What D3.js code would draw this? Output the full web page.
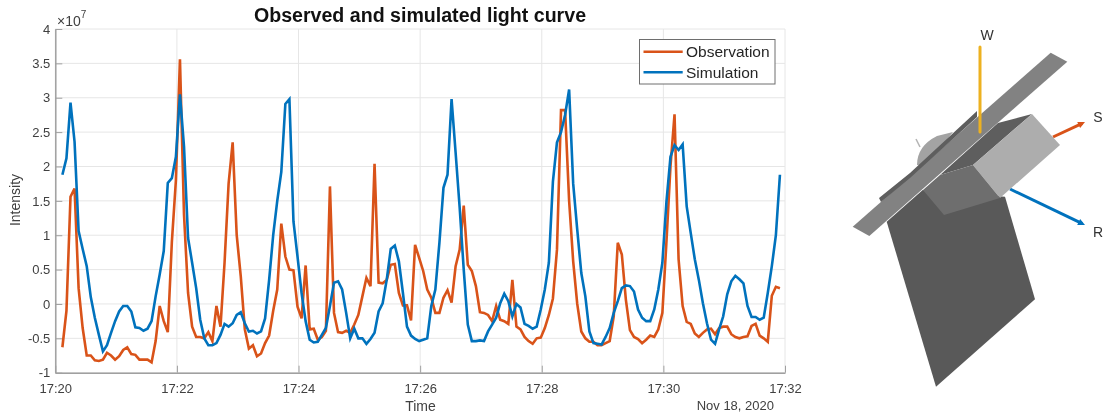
<!DOCTYPE html>
<html>
<head>
<meta charset="utf-8">
<script src="https://cdn.jsdelivr.net/npm/d3@7"></script>
<style>
  html, body { margin: 0; padding: 0; background: #fff; }
  svg { display: block; filter: blur(0.35px); }
  text { font-family: "Liberation Sans", Arial, sans-serif; }
</style>
</head>
<body>
<div id="chart"></div>
<script>
// light curve samples, in units of 1e7, one every 4 seconds
const firstSampleSecond = 7
const sampleStep = 4

const observation = [
  -0.63, -0.1, 1.56, 1.68, 0.23, -0.35, -0.75, -0.75, -0.82, -0.83,
  -0.81, -0.71, -0.75, -0.81, -0.76, -0.67, -0.63, -0.73, -0.74, -0.81,
  -0.81, -0.81, -0.85, -0.54, -0.03, -0.25, -0.41, 0.9, 1.8, 3.56,
  1.3, 0.16, -0.33, -0.48, -0.48, -0.5, -0.41, -0.54, -0.03, -0.33,
  0.6, 1.75, 2.35, 1.0, 0.4, -0.37, -0.65, -0.6, -0.76, -0.72,
  -0.57, -0.46, -0.1, 0.21, 1.17, 0.69, 0.5, 0.49, -0.04, -0.21,
  0.56, -0.37, -0.36, -0.52, -0.48, -0.39, 1.71, -0.13, -0.41, -0.42,
  -0.39, -0.42, -0.3, -0.16, 0.11, 0.38, 0.26, 2.04, 0.31, 0.3,
  0.35, 0.57, 0.58, 0.16, -0.02, -0.02, -0.24, 0.86, 0.67, 0.48,
  0.21, 0.09, -0.13, -0.13, 0.09, 0.2, 0.02, 0.55, 0.79, 1.43,
  0.57, 0.48, 0.26, -0.12, -0.13, -0.16, -0.25, -0.03, -0.23, -0.25,
  -0.29, 0.35, -0.33, -0.37, -0.48, -0.54, -0.58, -0.5, -0.49, -0.35,
  -0.16, 0.08, 0.79, 2.82, 2.82, 1.5, 0.62, 0.0, -0.4, -0.5,
  -0.55, -0.55, -0.6, -0.6, -0.57, -0.54, -0.18, 0.89, 0.72, 0.06,
  -0.38, -0.48, -0.51, -0.57, -0.52, -0.46, -0.48, -0.37, -0.13, 0.9,
  2.0, 2.76, 0.65, -0.03, -0.26, -0.29, -0.43, -0.48, -0.42, -0.37,
  -0.36, -0.44, -0.35, -0.33, -0.33, -0.44, -0.48, -0.5, -0.48, -0.47,
  -0.32, -0.29, -0.46, -0.5, -0.55, 0.12, 0.25, 0.23
]

const simulation = [
  1.88, 2.12, 2.93, 2.36, 1.06, 0.8, 0.55, 0.1, -0.2, -0.45,
  -0.69, -0.6, -0.42, -0.25, -0.11, -0.03, -0.03, -0.11, -0.34, -0.35,
  -0.39, -0.36, -0.25, 0.11, 0.43, 0.77, 1.76, 1.83, 2.14, 3.05,
  2.29, 0.96, 0.6, 0.23, -0.23, -0.5, -0.6, -0.6, -0.57, -0.45,
  -0.29, -0.33, -0.28, -0.16, -0.12, -0.28, -0.4, -0.39, -0.43, -0.4,
  -0.21, 0.35, 1.0, 1.5, 1.92, 2.91, 2.98, 1.2, 0.69, 0.16,
  -0.25, -0.52, -0.56, -0.55, -0.45, -0.35, -0.03, 0.31, 0.33, 0.21,
  -0.13, -0.5, -0.36, -0.5, -0.5, -0.58, -0.51, -0.42, -0.11, 0.01,
  0.35, 0.8, 0.85, 0.62, 0.16, -0.33, -0.46, -0.51, -0.54, -0.52,
  -0.5, -0.03, 0.21, 0.89, 1.69, 1.88, 2.98, 2.2, 1.4, 0.5,
  -0.3, -0.54, -0.54, -0.53, -0.54, -0.4, -0.3, -0.2, 0.01, 0.15,
  0.04, -0.18, 0.0, -0.05, -0.29, -0.32, -0.36, -0.33, -0.08, 0.21,
  0.6, 1.78, 2.35, 2.5, 2.75, 3.12, 1.75, 1.08, 0.45, 0.11,
  -0.4, -0.57, -0.58, -0.59, -0.48, -0.35, -0.13, 0.04, 0.23, 0.27,
  0.26, 0.18, -0.08, -0.2, -0.25, -0.25, -0.08, 0.21, 0.6, 1.48,
  2.14, 2.31, 2.24, 2.32, 1.42, 1.03, 0.65, 0.35, 0.01, -0.28,
  -0.52, -0.58, -0.37, -0.18, 0.14, 0.33, 0.41, 0.36, 0.3, -0.03,
  -0.19, -0.19, -0.23, -0.2, 0.16, 0.55, 1.0, 1.88
]

const yTicks = [-1, -0.5, 0, 0.5, 1, 1.5, 2, 2.5, 3, 3.5, 4]
const xTickMinutes = [20, 22, 24, 26, 28, 30, 32]
const seriesNames = ['Observation', 'Simulation']

const colors = { obs: '#D95319', sim: '#0072BD', w: '#EDB120' }
const textColor = '#404040'

const clock = (min, sec) => new Date(2020, 10, 18, 17, min, sec || 0)

const svg = d3.select('#chart').append('svg')
  .attr('width', 1104)
  .attr('height', 414)

const x = d3.scaleTime().domain([clock(20), clock(32)]).range([55.3, 785])
const y = d3.scaleLinear().domain([-1, 4]).range([372.7, 29])

// grid
svg.append('g').selectAll('line').data(yTicks).enter().append('line')
  .attr('x1', x.range()[0]).attr('x2', x.range()[1])
  .attr('y1', d => y(d)).attr('y2', d => y(d))
  .attr('stroke', '#e6e6e6').attr('stroke-width', 1)
svg.append('g').selectAll('line').data(xTickMinutes).enter().append('line')
  .attr('x1', d => x(clock(d))).attr('x2', d => x(clock(d)))
  .attr('y1', y.range()[0]).attr('y2', y.range()[1])
  .attr('stroke', '#e6e6e6').attr('stroke-width', 1)

// axes
const xAxis = svg.append('g')
  .attr('transform', `translate(0,${y.range()[0]})`)
  .call(d3.axisBottom(x)
    .tickValues(xTickMinutes.map(m => clock(m)))
    .tickFormat(d3.timeFormat('%H:%M'))
    .tickSizeInner(-7).tickSizeOuter(0).tickPadding(11))
const yAxis = svg.append('g')
  .attr('transform', `translate(${x.range()[0]},0)`)
  .call(d3.axisLeft(y)
    .tickValues(yTicks)
    .tickFormat(d => String(d))
    .tickSizeInner(-7).tickSizeOuter(0).tickPadding(5))
for (const axis of [xAxis, yAxis]) {
  axis.selectAll('path').attr('stroke', '#a0a0a0').attr('stroke-width', 1.5)
  axis.selectAll('line').attr('stroke', '#a0a0a0').attr('stroke-width', 1)
  axis.selectAll('text').attr('fill', textColor)
    .style('font-size', '13px').style('font-family', '"Liberation Sans", Arial, sans-serif')
}

// curves
const curve = d3.line()
  .x((d, i) => x(clock(20, firstSampleSecond + i * sampleStep)))
  .y(d => y(d))
svg.append('path').attr('d', curve(observation))
  .attr('fill', 'none').attr('stroke', colors.obs).attr('stroke-width', 2.6)
svg.append('path').attr('d', curve(simulation))
  .attr('fill', 'none').attr('stroke', colors.sim).attr('stroke-width', 2.6)

// labels
svg.append('text').attr('x', 420).attr('y', 22).attr('text-anchor', 'middle')
  .attr('font-weight', 'bold').attr('font-size', 19.6).attr('fill', '#111').text('Observed and simulated light curve')
svg.append('text').attr('x', 420.5).attr('y', 411).attr('text-anchor', 'middle')
  .attr('font-size', 14).attr('fill', textColor).text('Time')
svg.append('text').attr('transform', 'translate(20,200) rotate(-90)').attr('text-anchor', 'middle')
  .attr('font-size', 14).attr('fill', textColor).text('Intensity')
svg.append('text').attr('x', 774).attr('y', 410).attr('text-anchor', 'end')
  .attr('font-size', 13).attr('fill', textColor).text('Nov 18, 2020')

const exponent = svg.append('text').attr('x', 57).attr('y', 26).attr('font-size', 14).attr('fill', textColor)
exponent.append('tspan').text('×10')
exponent.append('tspan').attr('dy', -8).attr('font-size', 10).text('7')

// legend
const legend = svg.append('g')
legend.append('rect').attr('x', 639.5).attr('y', 39.5).attr('width', 135.5).attr('height', 44.5)
  .attr('fill', '#fff').attr('stroke', '#6e6e6e').attr('stroke-width', 1)
seriesNames.forEach((name, i) => {
  const ly = 51.7 + i * 20.6
  legend.append('line').attr('x1', 643.5).attr('x2', 682.7).attr('y1', ly).attr('y2', ly)
    .attr('stroke', i === 0 ? colors.obs : colors.sim).attr('stroke-width', 2.6)
  legend.append('text').attr('x', 686).attr('y', ly + 5.5)
    .attr('font-size', 15.5).attr('fill', '#262626').text(name)
})

// satellite sketch on the right
const poly = (points, fill) => svg.append('polygon')
  .attr('points', points.map(p => p.join(',')).join(' '))
  .attr('fill', fill)

const arrow = (x1, y1, x2, y2, color) => {
  const a = Math.atan2(y2 - y1, x2 - x1)
  svg.append('line').attr('x1', x1).attr('y1', y1).attr('x2', x2 - 3 * Math.cos(a)).attr('y2', y2 - 3 * Math.sin(a))
    .attr('stroke', color).attr('stroke-width', 3)
  poly([
    [x2, y2],
    [x2 - 7 * Math.cos(a) + 3.4 * Math.sin(a), y2 - 7 * Math.sin(a) - 3.4 * Math.cos(a)],
    [x2 - 7 * Math.cos(a) - 3.4 * Math.sin(a), y2 - 7 * Math.sin(a) + 3.4 * Math.cos(a)]
  ], color)
}

arrow(1053, 137, 1085, 122, colors.obs)
arrow(1010, 189, 1085, 225, colors.sim)

// main panel
poly([[886.7, 221.7], [922.7, 190], [1005, 196.7], [1035, 299.3], [936, 386.7]], '#595959')
// dome and pin
svg.append('line').attr('x1', 916).attr('y1', 139).attr('x2', 920).attr('y2', 147)
  .attr('stroke', '#b5b5b5').attr('stroke-width', 1.5)
svg.append('path').attr('d', 'M917,165 Q917,146 937,136 L953,132 L925,166 Z').attr('fill', '#a3a3a3')
// thin plate and its dark strip
poly([[852.7, 226.7], [1050.7, 52.7], [1067.3, 61.7], [869.3, 236]], '#828282')
poly([[879, 198], [910, 173], [977, 111], [977, 117], [910, 178], [881, 202]], '#5e5e5e')
// box below the plate
poly([[940, 175], [998, 123], [1032, 114], [973, 165]], '#5e5e5e')
poly([[973, 165], [1032, 114], [1060, 145], [1000, 198]], '#adadad')
poly([[923, 190], [940, 175], [973, 165], [1000, 198], [944, 215]], '#6e6e6e')

// W axis
svg.append('line').attr('x1', 980).attr('y1', 47).attr('x2', 980).attr('y2', 132)
  .attr('stroke', colors.w).attr('stroke-width', 3).attr('stroke-linecap', 'round')

const axisLabels = [['W', 987, 40], ['S', 1098, 122], ['R', 1098, 237]]
svg.selectAll('text.axislabel').data(axisLabels).enter().append('text')
  .attr('class', 'axislabel')
  .attr('x', d => d[1]).attr('y', d => d[2]).attr('text-anchor', 'middle')
  .attr('font-size', 14).attr('fill', '#333').text(d => d[0])
</script>
</body>
</html>
